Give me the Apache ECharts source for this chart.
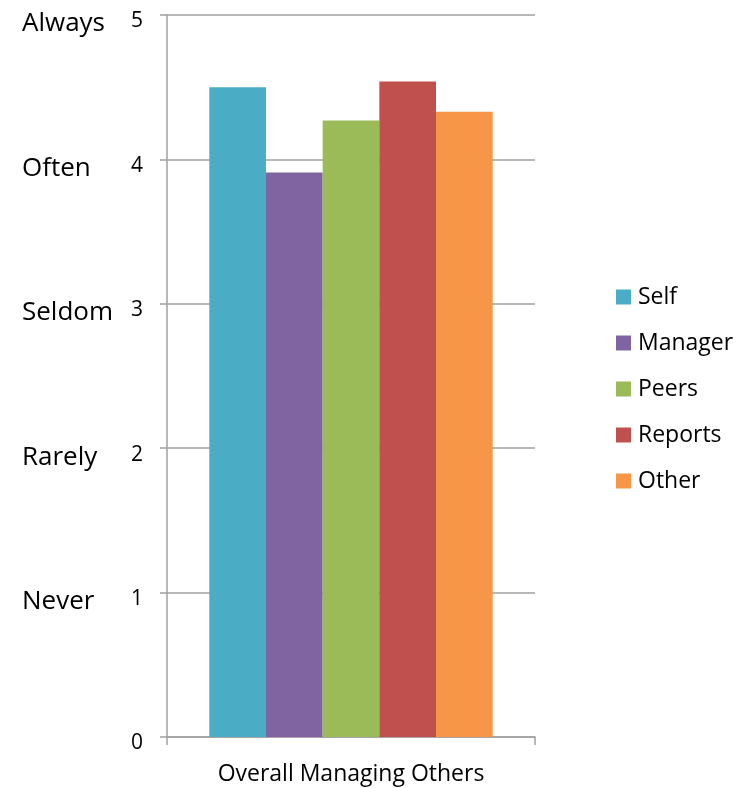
<!DOCTYPE html>
<html>
<head>
<meta charset="utf-8">
<script src="https://cdn.jsdelivr.net/npm/echarts@6/dist/echarts.min.js"></script>
<style>
  html, body { margin: 0; padding: 0; background: #fff; }
  #chart { width: 739px; height: 788px; }
</style>
</head>
<body>
<div id="chart"></div>
<script>
// Rating scale and respondent groups
const categories = ['Overall Managing Others'];
const seriesNames = ['Self', 'Manager', 'Peers', 'Reports', 'Other'];
const seriesValues = [[4.5], [3.91], [4.27], [4.54], [4.33]];
const seriesColors = ['#4BACC6', '#8064A2', '#9BBB59', '#C0504D', '#F79646'];
const scaleWords = ['', 'Never', 'Rarely', 'Seldom', 'Often', 'Always'];

const FONT = 'Open Sans';
const GRID_GRAY = '#a0a0a0';
const chart = echarts.init(document.getElementById('chart'));

chart.setOption({
  animation: false,
  textStyle: { fontFamily: FONT },
  grid: { left: 167, right: 204, top: 15, bottom: 51, containLabel: false },
  legend: {
    orient: 'vertical',
    left: 611,
    top: 280,
    itemWidth: 15,
    itemHeight: 15,
    itemGap: 22,
    icon: 'rect',
    data: seriesNames,
    textStyle: { fontFamily: FONT, fontSize: 23, color: '#000', lineHeight: 24, padding: [0, 0, 0, 2] }
  },
  xAxis: {
    type: 'category',
    data: categories,
    axisLine: { lineStyle: { color: GRID_GRAY, width: 1.5 } },
    axisTick: { show: true, length: 8, lineStyle: { color: GRID_GRAY, width: 1.5 } },
    axisLabel: { color: '#000', fontSize: 23, fontFamily: FONT, margin: 26 }
  },
  yAxis: [
    {
      type: 'value',
      min: 0, max: 5, interval: 1,
      position: 'left',
      axisLine: { show: true, lineStyle: { color: GRID_GRAY, width: 1.5 } },
      axisTick: { show: true, length: 7, lineStyle: { color: GRID_GRAY, width: 1.5 } },
      splitLine: { show: true, lineStyle: { color: GRID_GRAY, width: 1.5 } },
      axisLabel: {
        color: '#000', fontSize: 21, fontFamily: FONT, margin: 24,
        verticalAlign: 'top', lineHeight: 13
      }
    },
    {
      type: 'value',
      min: 0, max: 5, interval: 1,
      position: 'left',
      axisLine: { show: false },
      axisTick: { show: false },
      splitLine: { show: false },
      axisLabel: {
        color: '#000', fontSize: 26, fontFamily: FONT, margin: 145, align: 'left',
        verticalAlign: 'top', lineHeight: 18,
        formatter: v => scaleWords[Math.round(v)] || ''
      }
    }
  ],
  series: seriesNames.map((name, i) => ({
    name,
    type: 'bar',
    yAxisIndex: 0,
    data: seriesValues[i],
    barGap: '0%',
    barCategoryGap: '23%',
    itemStyle: { color: seriesColors[i] }
  }))
});
</script>
</body>
</html>
